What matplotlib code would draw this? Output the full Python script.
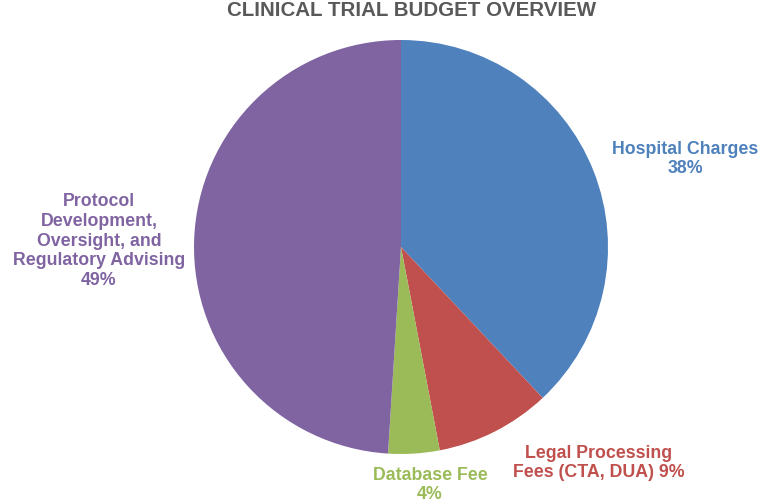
import matplotlib.pyplot as plt

categories = ['Hospital Charges', 'Legal Processing\nFees (CTA, DUA)', 'Database Fee',
              'Protocol\nDevelopment,\nOversight, and\nRegulatory Advising']
shares = [38, 9, 4, 49]
colors = ['#4F81BD', '#C0504D', '#9BBB59', '#8064A2']

# label text, its centre in pixels (x, y from the top)
label_text = [
    'Hospital Charges\n38%',
    'Legal Processing\nFees (CTA, DUA) 9%',
    'Database Fee\n4%',
    'Protocol\nDevelopment,\nOversight, and\nRegulatory Advising\n49%',
]
label_pos = [(685, 159), (599, 463), (430, 485), (99, 241)]

W, H = 759, 502
cx, cy, r = 401, 248, 207

fig = plt.figure(figsize=(W / 100, H / 100), dpi=100)
ax = fig.add_axes([0, 0, 1, 1])
ax.axis('off')

ax.pie(shares, colors=colors, startangle=90, counterclock=False, radius=1,
       wedgeprops=dict(linewidth=0))
ax.set_xlim(-cx / r, (W - cx) / r)
ax.set_ylim((cy - H) / r, cy / r)
ax.set_aspect('auto')

for txt, (px, py), c in zip(label_text, label_pos, colors):
    ax.text((px - cx) / r, (cy - py) / r, txt, ha='center', va='center',
            color=c, fontsize=12.8, fontweight='bold', family='Liberation Sans',
            linespacing=1.22)

fig.text(412 / W, 1 - 10 / H, 'CLINICAL TRIAL BUDGET OVERVIEW', ha='center', va='center',
         color='#595959', fontsize=14.8, fontweight='bold', family='Liberation Sans')

fig.savefig('out.png', dpi=100)
